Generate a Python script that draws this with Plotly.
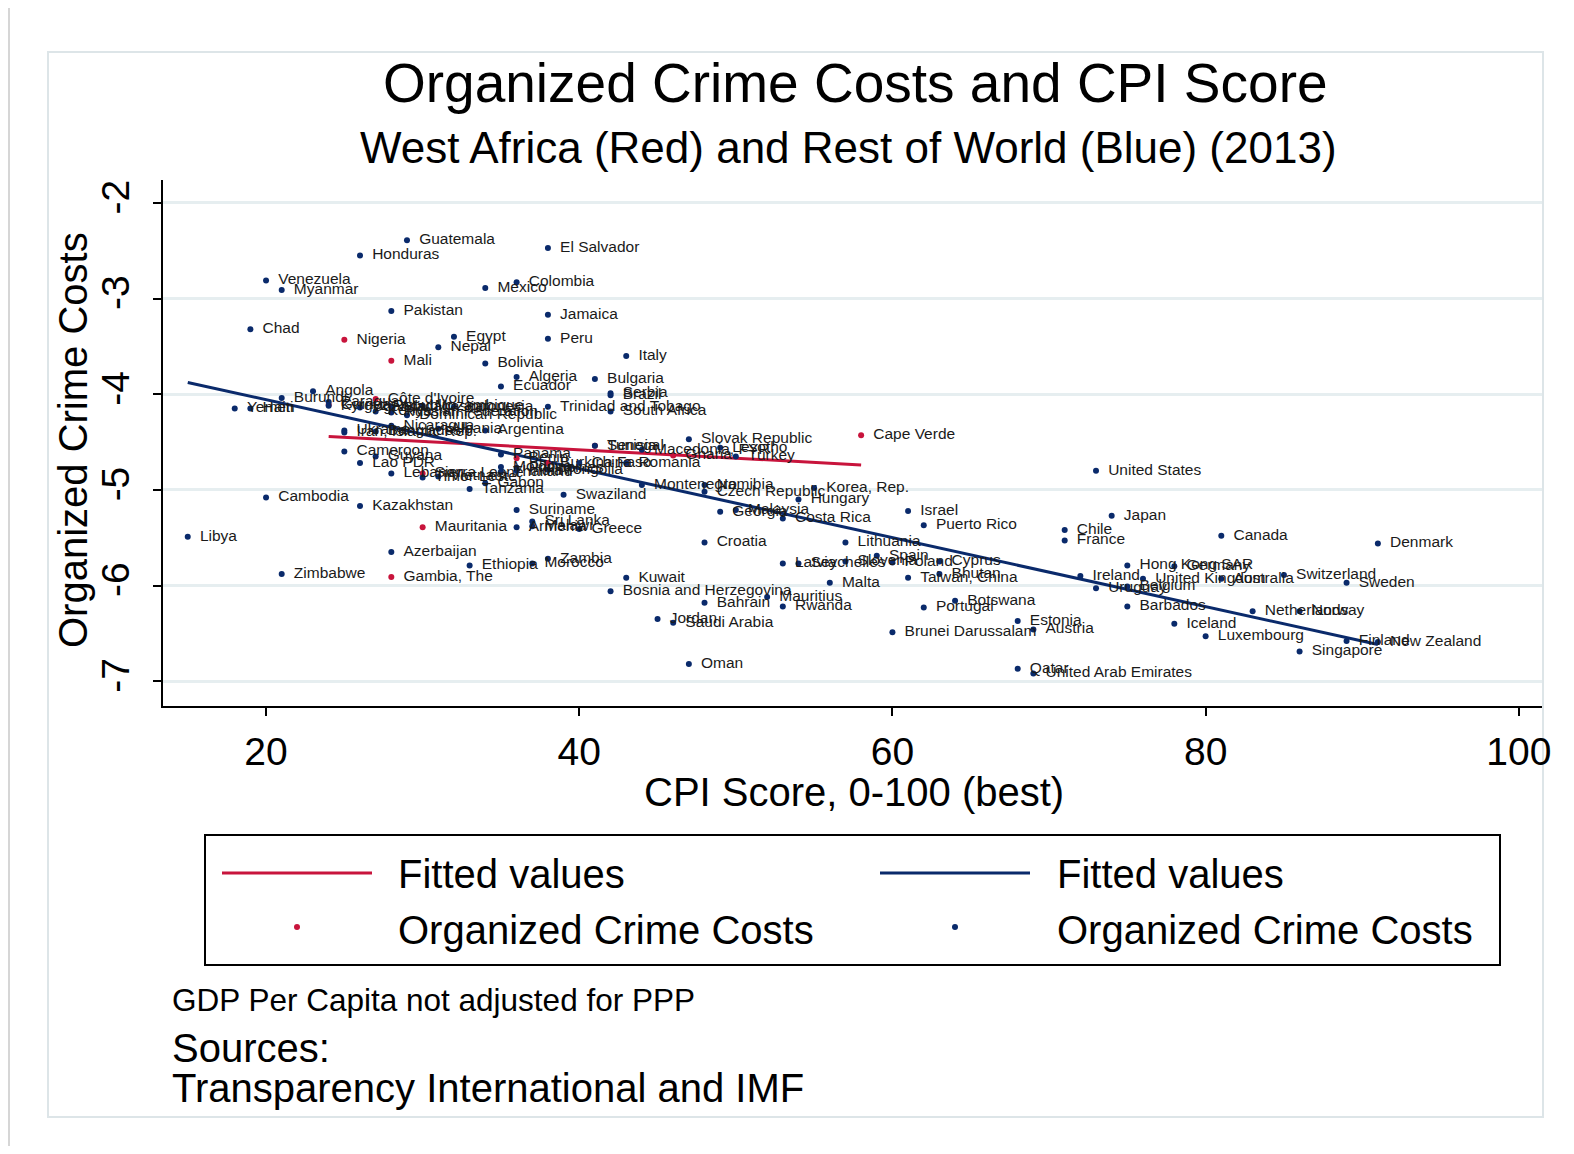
"""
Organized crime costs vs. CPI score, West Africa vs rest of world (2013).
"""

import numpy as np
import plotly.graph_objects as go

# West Africa (red)
wa_countries = ["Guinea", "Nigeria", "Côte d'Ivoire", "Mali", "Gambia, The", "Mauritania",
                "Sierra Leone", "Benin", "Burkina Faso", "Senegal", "Ghana", "Cape Verde"]
wa_cpi = [24, 25, 27, 28, 28, 30, 30, 36, 38, 41, 46, 58]
wa_occ = [-4.11, -3.43, -4.05, -3.65, -5.91, -5.39, -4.83, -4.67, -4.72, -4.54, -4.64, -4.43]

# Rest of world (blue)
row_countries = [
    "Libya", "Yemen", "Haiti", "Chad", "Venezuela", "Cambodia", "Myanmar", "Burundi", "Zimbabwe",
    "Angola", "Paraguay", "Kyrgyz Republic", "Ukraine", "Iran, Islamic Rep.", "Cameroon",
    "Honduras", "Uganda", "Lao PDR", "Kazakhstan", "Kenya", "Bangladesh", "Guyana", "Pakistan",
    "Russian Federation", "Madagascar", "Nicaragua", "Lebanon", "Azerbaijan", "Guatemala",
    "Dominican Republic", "Mozambique", "Timor-Leste", "Nepal", "Albania", "Vietnam", "Egypt",
    "Indonesia", "Tanzania", "Ethiopia", "Mexico", "Bolivia", "Argentina", "Gabon", "Ecuador",
    "Panama", "Moldova", "Thailand", "Colombia", "Algeria", "Philippines", "India", "Suriname",
    "Armenia", "Malawi", "Sri Lanka", "Morocco", "El Salvador", "Jamaica", "Peru",
    "Trinidad and Tobago", "Mongolia", "Zambia", "Swaziland", "China", "Greece", "Bulgaria",
    "Tunisia", "Serbia", "Brazil", "South Africa", "Bosnia and Herzegovina", "Italy", "Romania",
    "Kuwait", "Macedonia, FYR", "Montenegro", "Jordan", "Saudi Arabia", "Slovak Republic", "Oman",
    "Namibia", "Czech Republic", "Croatia", "Bahrain", "Lesotho", "Georgia", "Turkey", "Malaysia",
    "Mauritius", "Costa Rica", "Latvia", "Rwanda", "Hungary", "Seychelles", "Korea, Rep.", "Malta",
    "Lithuania", "Slovenia", "Spain", "Poland", "Brunei Darussalam", "Israel", "Taiwan, China",
    "Puerto Rico", "Portugal", "Bhutan", "Cyprus", "Botswana", "Estonia", "Qatar", "Austria",
    "United Arab Emirates", "Chile", "France", "Ireland", "United States", "Uruguay", "Japan",
    "Hong Kong SAR", "Belgium", "Barbados", "United Kingdom", "Germany", "Iceland", "Luxembourg",
    "Canada", "Australia", "Netherlands", "Switzerland", "Norway", "Singapore", "Finland",
    "Sweden", "Denmark", "New Zealand",
]
row_cpi = [
    15, 18, 19, 19, 20, 20, 21, 21, 21,
    23, 24, 24, 25, 25, 25,
    26, 26, 26, 26, 27, 27, 27, 28,
    28, 28, 28, 28, 28, 29,
    29, 30, 30, 31, 31, 31, 32,
    32, 33, 33, 34, 34, 34, 34, 35,
    35, 35, 35, 36, 36, 36, 36, 36,
    36, 37, 37, 37, 38, 38, 38,
    38, 38, 38, 39, 40, 40, 41,
    41, 42, 42, 42, 42, 43, 43,
    43, 44, 44, 45, 46, 47, 47,
    48, 48, 48, 48, 49, 49, 50, 50,
    52, 53, 53, 53, 54, 54, 55, 56,
    57, 57, 59, 60, 60, 61, 61,
    62, 62, 63, 63, 64, 68, 68, 69,
    69, 71, 71, 72, 73, 73, 74,
    75, 75, 75, 76, 78, 78, 80,
    81, 81, 83, 85, 86, 86, 89,
    89, 91, 91,
]
row_occ = [
    -5.49, -4.15, -4.15, -3.32, -2.81, -5.08, -2.91, -4.04, -5.88,
    -3.97, -4.08, -4.12, -4.38, -4.40, -4.60,
    -2.55, -4.14, -4.72, -5.17, -4.18, -4.39, -4.65, -3.13,
    -4.19, -4.13, -4.33, -4.83, -5.65, -2.39,
    -4.22, -4.12, -4.87, -3.51, -4.36, -4.86, -3.40,
    -4.13, -4.99, -5.79, -2.89, -3.68, -4.38, -4.93, -3.92,
    -4.63, -4.76, -4.81, -2.83, -3.82, -4.77, -4.80, -5.21,
    -5.39, -5.38, -5.33, -5.77, -2.47, -3.17, -3.42,
    -4.13, -4.79, -5.72, -5.05, -4.72, -5.41, -3.84,
    -4.54, -3.99, -4.01, -4.18, -6.06, -3.60, -4.72,
    -5.92, -4.58, -4.95, -6.35, -6.39, -4.47, -6.82,
    -4.95, -5.02, -5.55, -6.18, -4.56, -5.23, -4.65, -5.21,
    -6.12, -5.30, -5.77, -6.22, -5.10, -5.77, -4.98, -5.97,
    -5.55, -5.75, -5.69, -5.76, -6.49, -5.22, -5.92,
    -5.37, -6.23, -5.88, -5.75, -6.16, -6.37, -6.87, -6.46,
    -6.92, -5.42, -5.53, -5.90, -4.80, -6.03, -5.27,
    -5.79, -6.01, -6.22, -5.93, -5.80, -6.40, -6.53,
    -5.48, -5.93, -6.27, -5.89, -6.27, -6.69, -6.58,
    -5.97, -5.56, -6.59,
]

x_ticks = [20, 40, 60, 80, 100]
y_ticks = [-7, -6, -5, -4, -3, -2]
y_ticktext = ["-7", "-6", "-5", "-4", "-3", "-2"]

RED = "#c8143c"
BLUE = "#0a2a6b"
FONT = "Liberation Sans, Arial, sans-serif"

# the page body has an 8px margin, so the figure sits at (8, 8)
OFF = 8
W, H = 1574 - 2 * OFF, 1154 - 2 * OFF
L, R, T, B = 163, 1542, 180, 706   # plot area in page pixels


def px(p):
    return (p - L) / (R - L)


def py(p):
    return (B - p) / (B - T)


def fit_line(x, y):
    """Linear fit over the range of x, like Stata's lfit."""
    slope, icpt = np.polyfit(x, y, 1)
    xs = np.array([min(x), max(x)])
    return xs, slope * xs + icpt


fig = go.Figure()

for xs_src, ys_src, color in [(wa_cpi, wa_occ, RED), (row_cpi, row_occ, BLUE)]:
    fx, fy = fit_line(xs_src, ys_src)
    fig.add_trace(go.Scatter(x=fx, y=fy, mode="lines",
                             line=dict(color=color, width=3), showlegend=False))

for cpi, occ, names, color in [(wa_cpi, wa_occ, wa_countries, RED),
                               (row_cpi, row_occ, row_countries, BLUE)]:
    fig.add_trace(go.Scatter(
        x=cpi, y=occ, mode="markers+text",
        text=["\u00a0\u2009" + n for n in names],
        textposition="middle right",
        textfont=dict(family=FONT, size=15.5, color="#1a1a1a"),
        marker=dict(color=color, size=6),
        showlegend=False, cliponaxis=False,
    ))

fig.update_layout(
    width=W, height=H,
    margin=dict(l=L - OFF, r=W - (R - OFF), t=T - OFF, b=H - (B - OFF), pad=0),
    paper_bgcolor="white", plot_bgcolor="white",
    font=dict(family=FONT, color="black"),
    showlegend=False,
    xaxis=dict(range=[13.42, 101.48], tickvals=x_ticks, showgrid=False, zeroline=False,
               showline=True, linecolor="black", linewidth=2,
               ticks="outside", ticklen=8, tickwidth=2, tickcolor="black",
               tickfont=dict(size=39), ticklabelstandoff=2),
    yaxis=dict(range=[-7.26, -1.76], tickvals=y_ticks, ticktext=y_ticktext, showgrid=True,
               gridcolor="#e6eef0", gridwidth=3, zeroline=False,
               showline=True, linecolor="black", linewidth=2,
               ticks="outside", ticklen=8, tickwidth=2, tickcolor="black",
               tickangle=-90, tickfont=dict(size=39), ticklabelstandoff=8),
)

# titles and notes
texts = [
    ("Organized Crime Costs and CPI Score", 856, 83, 55, "center", 0),
    ("West Africa (Red) and Rest of World (Blue) (2013)", 848, 148, 44, "center", 0),
    ("CPI Score, 0-100 (best)", 854, 792, 40, "center", 0),
    ("Organized Crime Costs", 73, 440, 40, "center", -90),
    ("GDP Per Capita not adjusted for PPP", 170, 1000, 31.5, "left", 0),
    ("Sources:", 170, 1048, 40, "left", 0),
    ("Transparency International and IMF", 170, 1088, 40, "left", 0),
    ("Fitted values", 396, 874, 40, "left", 0),
    ("Fitted values", 1055, 874, 40, "left", 0),
    ("Organized Crime Costs", 396, 930, 40, "left", 0),
    ("Organized Crime Costs", 1055, 930, 40, "left", 0),
]
for txt, x, y, size, anchor, angle in texts:
    fig.add_annotation(text=txt, xref="paper", yref="paper", x=px(x), y=py(y),
                       xanchor=anchor, yanchor="middle", showarrow=False,
                       textangle=angle, font=dict(size=size, color="black"))

# outer frame and legend box
fig.add_shape(type="line", xref="paper", yref="paper",
              x0=px(OFF + 1), x1=px(OFF + 1), y0=py(1154), y1=py(OFF),
              line=dict(color="#d6d6d6", width=2), layer="below")
fig.add_shape(type="rect", xref="paper", yref="paper",
              x0=px(48), x1=px(1543), y0=py(1117), y1=py(52),
              line=dict(color="#dde5e8", width=2), layer="below")
fig.add_shape(type="rect", xref="paper", yref="paper",
              x0=px(205), x1=px(1500), y0=py(965), y1=py(835),
              line=dict(color="black", width=2))
for color, x0 in [(RED, 222), (BLUE, 880)]:
    fig.add_shape(type="line", xref="paper", yref="paper",
                  x0=px(x0), x1=px(x0 + 150), y0=py(873), y1=py(873),
                  line=dict(color=color, width=3))
    fig.add_shape(type="circle", xref="paper", yref="paper",
                  x0=px(x0 + 72), x1=px(x0 + 78), y0=py(930), y1=py(924),
                  fillcolor=color, line=dict(width=0))

fig.write_html("out.html")
